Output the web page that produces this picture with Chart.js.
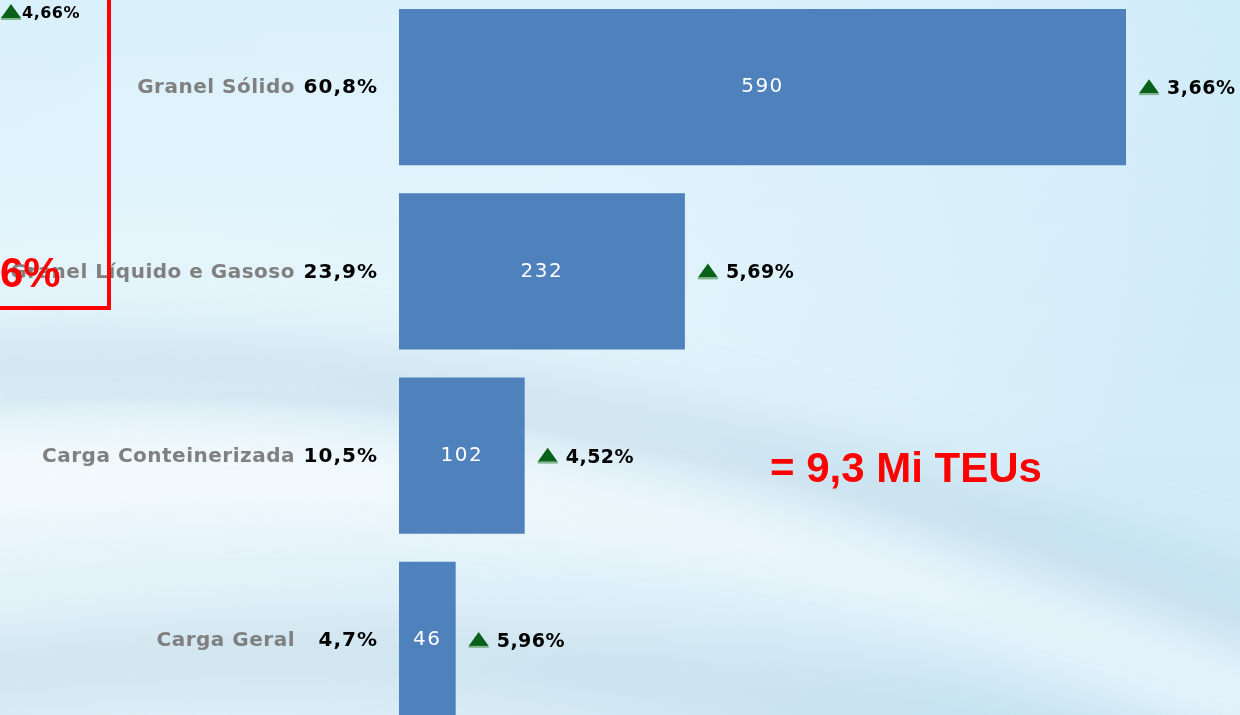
<!DOCTYPE html>
<html>
<head>
<meta charset="utf-8">
<script src="https://cdn.jsdelivr.net/npm/chart.js@4"></script>
<style>
  html, body { margin: 0; padding: 0; width: 1240px; height: 715px; overflow: hidden; }
  body {
    position: relative;
    background: linear-gradient(180deg, #d8f0fb 0%, #e2f4fb 35%, #e8f6fb 60%, #dfeff7 100%);
  }
  #bg { position: absolute; left: 0; top: 0; }
  #chart { position: absolute; left: 0; top: -5px; }
</style>
</head>
<body>
<svg id="bg" width="1240" height="715" xmlns="http://www.w3.org/2000/svg">
  <defs>
    <filter id="soft" x="-20%" y="-60%" width="140%" height="220%"><feGaussianBlur stdDeviation="28"/></filter>
    <filter id="soft2" x="-20%" y="-50%" width="140%" height="200%"><feGaussianBlur stdDeviation="6"/></filter>
    <linearGradient id="side" x1="0" y1="0" x2="1" y2="0.4">
      <stop offset="0" stop-color="#ffffff" stop-opacity="0"/>
      <stop offset="1" stop-color="#bde3f5" stop-opacity="0.5"/>
    </linearGradient>
  </defs>
  <rect width="1240" height="715" fill="url(#side)"/>
  <path d="M-60,370 C300,350 700,400 1300,630" stroke="#b8d4e4" stroke-width="70" fill="none" opacity="0.5" filter="url(#soft)"/>
  <path d="M-60,490 C350,450 760,500 1300,720" stroke="#ffffff" stroke-width="80" fill="none" opacity="0.5" filter="url(#soft)"/>
  <path d="M-60,680 C300,630 700,640 1300,820" stroke="#bcd7e6" stroke-width="70" fill="none" opacity="0.5" filter="url(#soft)"/>
  <path d="M0,400 C350,380 700,420 1240,620" stroke="#c9e0ec" stroke-width="5" fill="none" opacity="0.7" filter="url(#soft2)"/>
</svg>
<canvas id="chart" width="1240" height="737"></canvas>
<script>
// cargo types, volumes (Mi t), share of total and yearly growth
const categories = ['Granel Sólido', 'Granel Líquido e Gasoso', 'Carga Conteinerizada', 'Carga Geral'];
const volumes = [590, 232, 102, 46];
const shares = ['60,8%', '23,9%', '10,5%', '4,7%'];
const growth = ['3,66%', '5,69%', '4,52%', '5,96%'];

const OFFSET = 5; // canvas sits 5px above the page

const drawUpArrow = (ctx, x, y) => {
  ctx.fillStyle = '#08601a';
  ctx.beginPath();
  ctx.moveTo(x, y + 6);
  ctx.lineTo(x + 10, y - 8);
  ctx.lineTo(x + 20, y + 6);
  ctx.closePath();
  ctx.fill();
  ctx.fillStyle = '#80b48a';
  ctx.fillRect(x, y + 6, 20, 2);
};

const labelPlugin = {
  id: 'cargoLabels',
  afterDatasetsDraw(chart) {
    const ctx = chart.ctx;
    const meta = chart.getDatasetMeta(0);
    const left = chart.chartArea.left;

    ctx.save();
    ctx.textBaseline = 'middle';

    meta.data.forEach((bar, i) => {
      const y = bar.y + 1;

      ctx.font = 'bold 20px "DejaVu Sans"';
      ctx.letterSpacing = '0.5px';
      ctx.fillStyle = '#808080';
      ctx.textAlign = 'right';
      ctx.fillText(categories[i], left - 104, y);

      ctx.letterSpacing = '1px';
      ctx.fillStyle = '#000';
      ctx.fillText(shares[i], left - 21, y);

      ctx.font = '20px "DejaVu Sans"';
      ctx.letterSpacing = '1.5px';
      ctx.fillStyle = '#fff';
      ctx.textAlign = 'center';
      ctx.fillText(String(volumes[i]), (bar.x + bar.base) / 2, y - 1);

      drawUpArrow(ctx, bar.x + 13, y - 1);
      ctx.font = 'bold 19px "DejaVu Sans"';
      ctx.letterSpacing = '0.5px';
      ctx.fillStyle = '#000';
      ctx.textAlign = 'left';
      ctx.fillText(growth[i], bar.x + 41, y + 1);
    });
    ctx.restore();

    // callouts from the slide
    ctx.save();
    ctx.strokeStyle = '#ff0000';
    ctx.lineWidth = 4;
    ctx.strokeRect(-10, -10 + OFFSET, 119, 318);

    ctx.fillStyle = '#ff0000';
    ctx.textBaseline = 'alphabetic';
    ctx.font = 'bold 42px "Liberation Sans", Arial';
    ctx.fillText('6%', 0, 287 + OFFSET);
    ctx.fillText('= 9,3 Mi TEUs', 770, 482 + OFFSET);

    drawUpArrow(ctx, 1, 12 + OFFSET);
    ctx.fillStyle = '#000';
    ctx.textBaseline = 'middle';
    ctx.font = 'bold 16px "DejaVu Sans"';
    ctx.letterSpacing = '0.5px';
    ctx.fillText('4,66%', 22, 14 + OFFSET);
    ctx.restore();
  }
};

new Chart(document.getElementById('chart'), {
  type: 'bar',
  data: {
    labels: categories,
    datasets: [{
      data: volumes,
      backgroundColor: '#4f81bd',
      borderWidth: 0,
      barPercentage: 0.847,
      categoryPercentage: 1
    }]
  },
  options: {
    indexAxis: 'y',
    responsive: false,
    animation: false,
    layout: { padding: { left: 399, right: 0, top: 0, bottom: 0 } },
    scales: {
      x: { display: false, min: 0, max: 682.5 },
      y: { display: false }
    },
    plugins: {
      legend: { display: false },
      tooltip: { enabled: false }
    }
  },
  plugins: [labelPlugin]
});
</script>
</body>
</html>
